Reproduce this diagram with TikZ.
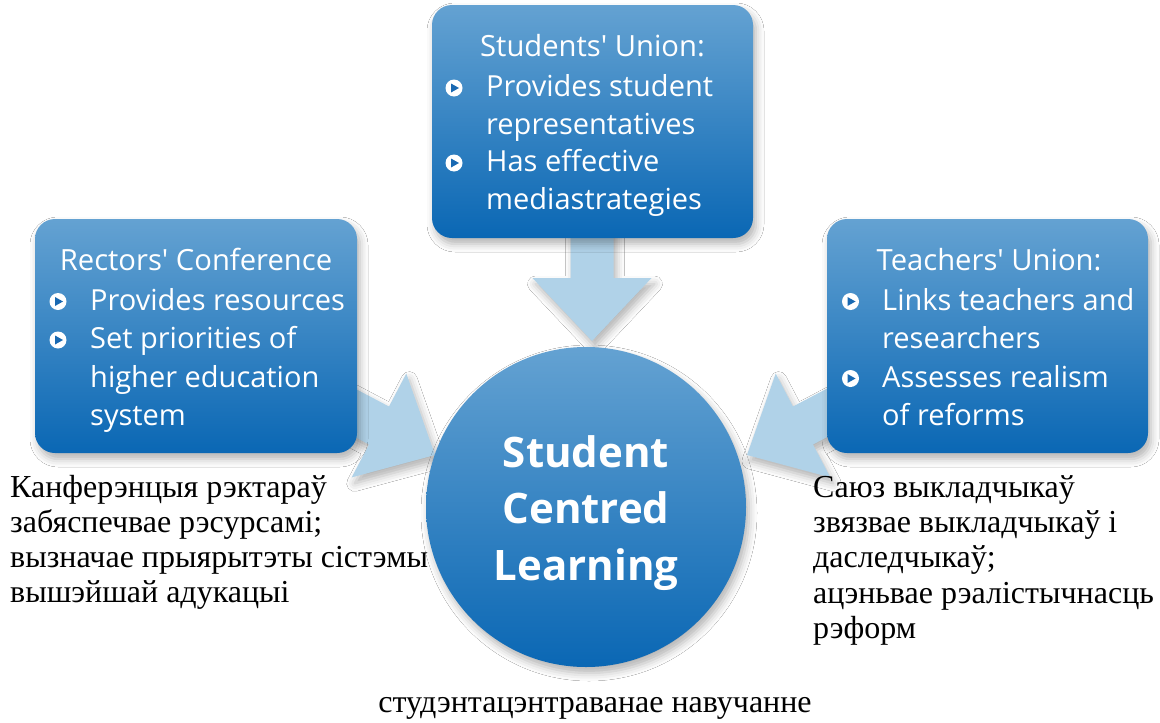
\documentclass[tikz,border=0pt]{standalone}
\usepackage{fontspec}
\setmainfont{Liberation Serif}
\newfontfamily\boxfont{Open Sans}
\usetikzlibrary{shadows.blur}
\definecolor{boxtop}{RGB}{100,162,210}
\definecolor{boxbot}{RGB}{10,103,180}
\definecolor{arrowblue}{RGB}{176,210,232}
\definecolor{triblue}{RGB}{25,105,178}
\tikzset{
  softshadow/.style={blur shadow={shadow xshift=3pt,shadow yshift=-6pt,shadow blur radius=8pt,shadow opacity=30}},
  infobox/.style={rectangle,rounded corners=20pt,top color=boxtop,bottom color=boxbot,draw=none,inner sep=0pt,softshadow},
  hub/.style={circle,top color=boxtop,bottom color=boxbot,draw=none,inner sep=0pt,minimum size=320pt,softshadow},
  blockarrow/.style={fill=arrowblue,draw=none,softshadow},
  head/.style={inner sep=0pt,anchor=base,text=white,font=\boxfont\fontsize{29.2}{36}\selectfont},
  item/.style={inner sep=0pt,anchor=base west,text=white,font=\boxfont\fontsize{29}{36}\selectfont},
  hubtext/.style={inner sep=0pt,anchor=base,text=white,font=\boxfont\bfseries\fontsize{42}{48}\selectfont},
  cyr/.style={inner sep=0pt,anchor=base west,text=black,font=\fontsize{32}{38}\selectfont},
  bullet/.style={circle,fill=white,minimum size=17pt,inner sep=0pt,
    path picture={\fill[triblue] ([xshift=-3pt,yshift=4.5pt]path picture bounding box.center) -- ([xshift=5pt]path picture bounding box.center) -- ([xshift=-3pt,yshift=-4.5pt]path picture bounding box.center) -- cycle;}}
}
\begin{document}
\begin{tikzpicture}[x=1pt,y=-1pt]
\useasboundingbox (0,0) rectangle (1160,723);
\fill[white] (0,0) rectangle (1160,723);

% block arrows (drawn first, shafts hidden under boxes)
\coordinate (tipT) at (592,341);
\coordinate (tipL) at (435,455);
\coordinate (tipR) at (747,455);
\fill[blockarrow] (570.5,200) -- (613.5,200) -- (613.5,278) -- (651.5,278) -- (tipT) -- (532.5,278) -- (570.5,278) -- cycle;
\fill[blockarrow] (300.5,359.9) -- (389,406.5) -- (406.3,373.6) -- (tipL) -- (351.7,477.4) -- (369,444.5) -- (280.5,397.9) -- cycle;
\fill[blockarrow] (881.5,359.9) -- (793,406.5) -- (775.7,373.6) -- (tipR) -- (830.3,477.4) -- (813,444.5) -- (901.5,397.9) -- cycle;

% boxes
\node[infobox,minimum width=321pt,minimum height=233pt] (su) at (592.5,121.5) {};
\node[infobox,minimum width=322pt,minimum height=234pt] (rc) at (196,336) {};
\node[infobox,minimum width=321pt,minimum height=234pt] (tu) at (987.5,336) {};
\node[hub] (scl) at (586,507) {};

% Students' Union
\node[head] (suh) at (592.5,56) {Students' Union:};
\node[bullet] (sub1) at (454,88) {};
\node[item] (su1) at (486,96.7) {Provides student};
\node[item] (su2) at (486,134.2) {representatives};
\node[bullet] (sub2) at (454,163) {};
\node[item] (su3) at (486,171.7) {Has effective};
\node[item] (su4) at (486,209.2) {mediastrategies};

% Rectors' Conference
\node[head] (rch) at (196,270.5) {Rectors' Conference};
\node[bullet] (rcb1) at (58,301.5) {};
\node[item] (rc1) at (90,310) {Provides resources};
\node[bullet] (rcb2) at (58,340) {};
\node[item] (rc2) at (90,348.5) {Set priorities of};
\node[item] (rc3) at (90,387) {higher education};
\node[item] (rc4) at (90,425.5) {system};

% Teachers' Union
\node[head] (tuh) at (989,270.5) {Teachers' Union:};
\node[bullet] (tub1) at (850.5,301.5) {};
\node[item] (tu1) at (882,310) {Links teachers and};
\node[item] (tu2) at (882,348.5) {researchers};
\node[bullet] (tub2) at (850.5,378.5) {};
\node[item] (tu3) at (882,387) {Assesses realism};
\node[item] (tu4) at (882,425.5) {of reforms};

% hub text
\node[hubtext] (sc1) at (586,467) {Student};
\node[hubtext] (sc2) at (586,523.5) {Centred};
\node[hubtext] (sc3) at (586,580) {Learning};

% Belarusian texts
\node[cyr] (bl1) at (10,497) {Канферэнцыя рэктараў};
\node[cyr] (bl2) at (10,532) {забяспечвае рэсурсамі;};
\node[cyr] (bl3) at (10,567) {вызначае прыярытэты сістэмы};
\node[cyr] (bl4) at (10,602) {вышэйшай адукацыі};

\node[cyr] (br1) at (813,497) {Саюз выкладчыкаў};
\node[cyr] (br2) at (813,532) {звязвае выкладчыкаў і};
\node[cyr] (br3) at (813,567) {даследчыкаў;};
\node[cyr] (br4) at (813,603) {ацэньвае рэалістычнасць};
\node[cyr] (br5) at (813,638) {рэформ};

\node[cyr,anchor=base] (bot) at (595,712) {студэнтацэнтраванае навучанне};
\end{tikzpicture}
\end{document}
